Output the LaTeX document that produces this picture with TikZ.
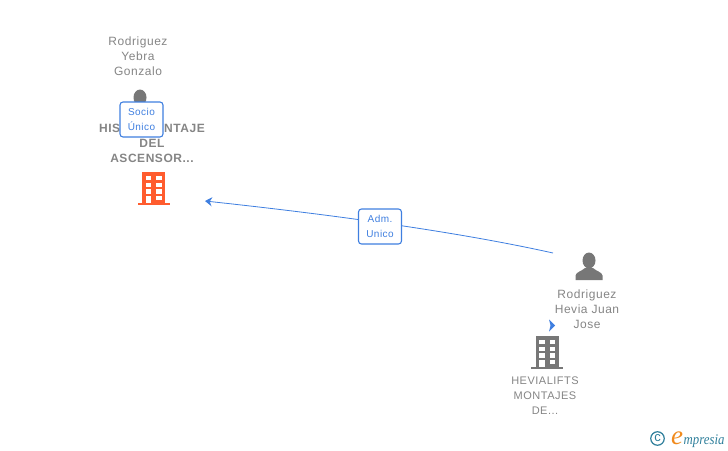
\documentclass[tikz,border=0pt]{standalone}
\usepackage{fontspec}
\usepackage{tikz}
\usetikzlibrary{arrows.meta}
\setmainfont{Liberation Sans}
\newfontfamily\namefont[LetterSpace=4.5]{Liberation Sans}
\newfontfamily\logofont{Liberation Serif}
\definecolor{linkblue}{HTML}{3F7FE0}
\definecolor{greytext}{HTML}{858585}
\definecolor{greyicon}{HTML}{777777}
\definecolor{orangeicon}{HTML}{FF5C2E}
\definecolor{logoteal}{HTML}{2F7F9B}
\definecolor{logoorange}{HTML}{F08A1D}
\tikzset{
  person/.style={font=\namefont\fontsize{12}{15}\selectfont,text=greytext,align=center,inner sep=0pt},
  company/.style={font=\namefont\fontsize{11}{15}\selectfont,text=greytext,align=center,inner sep=0pt},
  tag/.style={draw=linkblue,line width=1.1pt,rounded corners=3pt,fill=white,text=linkblue,
    font=\namefont\fontsize{10}{15.5}\selectfont,align=center,minimum width=43pt,minimum height=35pt,inner sep=0pt},
  link/.style={draw=linkblue,line width=0.8pt}
}
% building icon, #1 colour, origin at the middle of the base
\newcommand{\building}[1]{%
  \fill[#1] (-11.5,-33) rectangle (11.5,-2);
  \fill[#1] (-16,-2) rectangle (16,0);
  \foreach \r in {0,1,2,3}{
    \fill[white] (2.5,-29+6.6*\r) rectangle (8,-24.7+6.6*\r);
  }
  \foreach \r in {0,1,2}{
    \fill[white] (-8,-29+6.6*\r) rectangle (-2.5,-24.7+6.6*\r);
  }
  \fill[white] (-8,-9) rectangle (-2.5,-2);
}
% person icon, #1 colour, origin at the middle of the base
\newcommand{\personicon}[1]{%
  \fill[#1] (0,-19.5) ellipse (6.5 and 8);
  \fill[#1] (-13.5,0) -- (-13.5,-4.5) .. controls (-13,-8) and (-7,-9) .. (-4,-12)
    -- (4,-12) .. controls (7,-9) and (13,-8) .. (13.5,-4.5) -- (13.5,0) -- cycle;
}
\begin{document}
\begin{tikzpicture}[x=1pt,y=-1pt]
\useasboundingbox (0,0) rectangle (728,450);

\begin{scope}[shift={(140,117)}]\personicon{greyicon}\end{scope}
\node[person] (yebra) at (138,56) {Rodriguez\\Yebra\\Gonzalo};

\node[company,font=\namefont\bfseries\fontsize{12}{15}\selectfont] (hispano) at (152,143) {HIS\hspace{44pt}NTAJE\\DEL\\ASCENSOR...};
\begin{scope}[shift={(153.5,205)}]\building{orangeicon}\end{scope}
\node[tag] (socio) at (141.5,119.5) {Socio\\Único};

\begin{scope}[shift={(589,280)}]\personicon{greyicon}\end{scope}
\node[person] (hevia) at (587,309) {Rodriguez\\Hevia Juan\\Jose};

\begin{scope}[shift={(547,369)}]\building{greyicon}\end{scope}
\node[company] (hevialifts) at (545,396) {HEVIALIFTS\\MONTAJES\\DE...};

\coordinate (from) at (553,253);
\coordinate (to) at (205,201);
\draw[link,-{Stealth[length=7pt,width=9pt]}] (from) .. controls (469,234.3) and (353.3,217) .. (to);
\node[tag] (adm) at (380,226.5) {Adm.\\Unico};

\fill[linkblue] (549,319.5) -- (555,325.5) -- (549,331.5) -- (550.5,325.5) -- cycle;

% logo
\node[circle,draw=logoteal,line width=1.2pt,text=logoteal,inner sep=0pt,minimum size=13.5pt,font=\fontsize{13}{13}\selectfont] (copy) at (657.5,438.5) {c};
\node[anchor=base west,inner sep=0pt,text=logoorange,font=\logofont\itshape\fontsize{27}{27}\selectfont] (e) at (671,444) {e};
\node[anchor=base west,inner sep=0pt,text=logoteal,yscale=1.15,font=\logofont\itshape\fontsize{12.8}{14}\selectfont] (logo) at (683.5,444) {mpresia};
\end{tikzpicture}
\end{document}
